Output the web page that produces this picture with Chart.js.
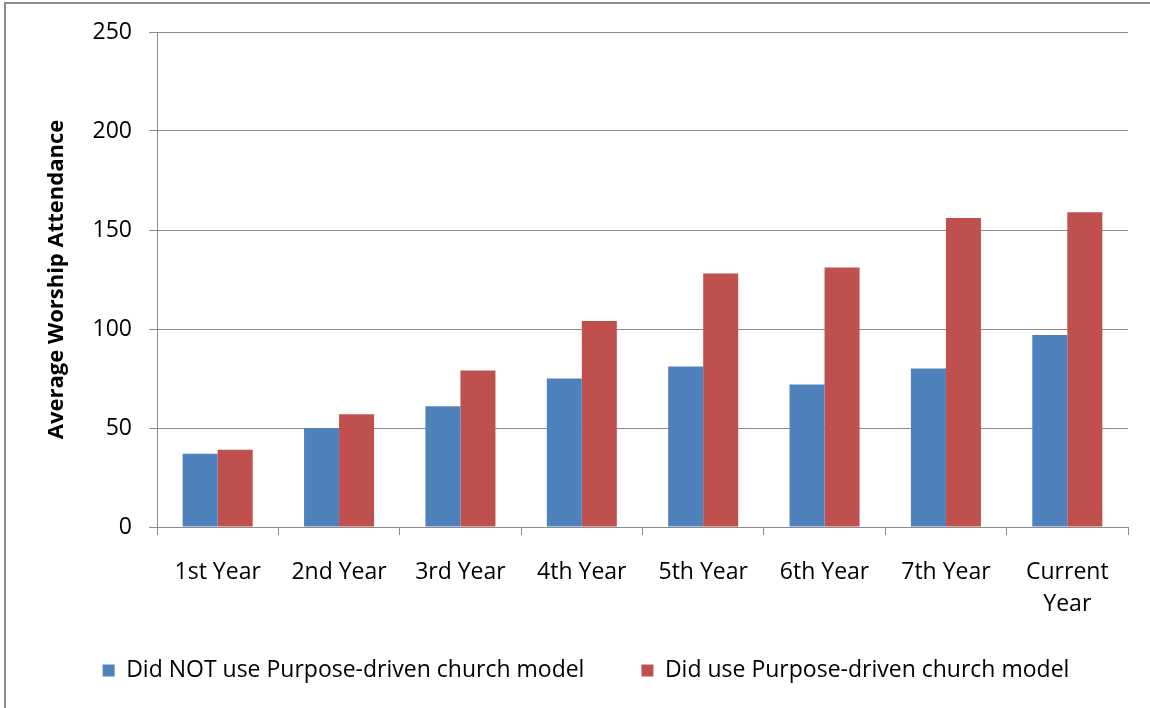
<!DOCTYPE html>
<html>
<head>
<meta charset="utf-8">
<script src="https://cdn.jsdelivr.net/npm/chart.js@4/dist/chart.umd.min.js"></script>
<style>
  html, body { margin: 0; padding: 0; background: #fff; }
  #wrap { position: relative; width: 1150px; height: 708px; overflow: hidden; }
  #cadre { position: absolute; left: 4px; top: 2px; width: 1200px; height: 800px;
           border-left: 2px solid #8c8c8c; border-top: 2px solid #8c8c8c; }
  canvas { position: absolute; left: 0; top: 0; }
</style>
</head>
<body>
<div id="wrap">
  <div id="cadre"></div>
  <canvas id="graphique" width="1150" height="708"></canvas>
</div>
<script>
const categories = ["1st Year", "2nd Year", "3rd Year", "4th Year", "5th Year", "6th Year", "7th Year", ["Current", "Year"]];
const sansModele = [37, 50, 61, 75, 81, 72, 80, 97];
const avecModele = [39, 57, 79, 104, 128, 131, 156, 159];
const nomsSeries = ["Did NOT use Purpose-driven church model", "Did use Purpose-driven church model"];

const police = "'Open Sans', sans-serif";
const gris = "#8c8c8c";

const data = {
    labels: categories,
    datasets: [
        { label: nomsSeries[0], data: sansModele, backgroundColor: "#4f81bd" },
        { label: nomsSeries[1], data: avecModele, backgroundColor: "#c0504d" }
    ]
};

const config = {
    type: "bar",
    data: data,
    options: {
        responsive: false,
        animation: false,
        layout: { padding: { left: 44, right: 22, top: 32, bottom: 16 } },
        datasets: { bar: { categoryPercentage: 0.577, barPercentage: 1 } },
        plugins: {
            tooltip: { enabled: false },
            legend: {
                position: "bottom",
                labels: {
                    color: "#000",
                    font: { family: police, size: 23 },
                    boxWidth: 12,
                    boxHeight: 12,
                    padding: 57
                }
            }
        },
        scales: {
            x: {
                grid: { display: true, drawOnChartArea: false, drawTicks: true, tickLength: 8, color: gris, offset: true },
                border: { color: gris, width: 1 },
                ticks: { color: "#000", font: { family: police, size: 23, lineHeight: 1.4 }, padding: 21, maxRotation: 0 },
                afterFit: scale => {
                    scale.height = 75;
                    // pas de découpage des libellés ("Current Year" sur deux lignes)
                    scale._computeLabelArea = () => undefined;
                }
            },
            y: {
                min: 0,
                max: 250,
                ticks: { stepSize: 50, color: "#000", font: { family: police, size: 23 }, padding: 17 },
                grid: { color: gris, tickLength: 8 },
                border: { color: gris, width: 1 },
                title: {
                    display: true,
                    text: "Average Worship Attendance",
                    color: "#000",
                    font: { family: police, size: 22, weight: "bold" },
                    padding: { top: 0, bottom: 0 }
                },
                afterFit: scale => { scale.width = 113; }
            }
        }
    }
};

const ctx = document.querySelector("#graphique").getContext("2d");
new Chart(ctx, config);
</script>
</body>
</html>
